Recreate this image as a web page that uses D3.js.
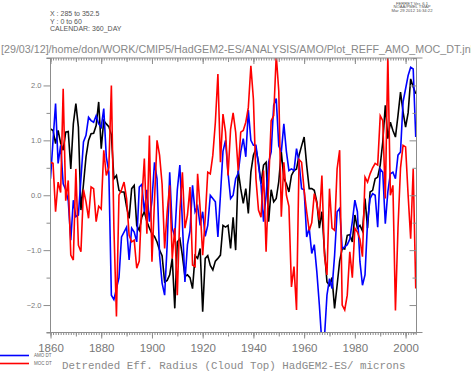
<!DOCTYPE html>
<html>
<head>
<meta charset="utf-8">
<script src="https://cdn.jsdelivr.net/npm/d3@7"></script>
<style>
  body { margin: 0; background: #fff; }
  svg { display: block; }
  text { font-family: "Liberation Sans", Arial, sans-serif; }
  text.mono { font-family: "Liberation Mono", "DejaVu Sans Mono", monospace; }
</style>
</head>
<body>
<svg id="chart" width="471" height="371"></svg>
<script>
// annual values, first year 1860, one value per year up to 2004
var firstYear = 1860;

var reff = [
  1.21, 1.18, 0.94, 1.18, 0.95, 0.82, 1.15, 1.16, 0.48, 1.3,
  1.67, 1.24, -0.27, 0.2, 0.7, 1.0, 1.12, 1.13, 1.27, 1.7,
  0.85, 1.36, 1.3, 1.25, 1.1, 0.3, 0.36, 0.09, 0.06, 0.06,
  -0.21, -0.42, 0.12, 0.18, -0.55, -0.64, -0.4, -0.3, -0.48, -0.6,
  -0.7, -0.75, -0.85, -1.0, -1.1, -1.58, -1.55, -1.45, -1.15, -2.06,
  -0.85, -0.79, -1.1, -1.48, -1.45, -1.5, -1.7, -1.1, -1.15, -0.97,
  -2.12, -1.15, -1.1, -1.28, -1.36, -1.2, -1.15, -1.09, -0.55, -0.58,
  -0.55, -0.97, -0.4, -1.0, 0.45, 0.12, -0.15, 0.12, -0.33, 0.42,
  0.73, 0.85, 0.6, 0.21, 0.55, 0.6, -0.48, 0.1, -0.12, -0.06,
  0.25, 0.79, 0.3, 0.21, 0.06, 0.36, 0.45, 0.48, 0.73, 0.9,
  1.06, 0.55, 0.12, 0.12, 0.09, -0.12, -0.6, -0.3, -1.0, -1.58,
  -1.64, -1.5, -2.06, -1.64, -1.2, -0.97, -0.98, -0.73, -0.72, -0.85,
  -0.36, -0.6, -0.55, -0.65, -0.06, -0.6, 0.06, 0.09, 0.3, 0.33,
  0.55, 0.97, 1.64, 1.03, 1.33, 1.18, 1.06, 1.45, 1.88, 1.52,
  1.24, 1.5, 2.12, 1.97, 1.85
];

var amo = [
  0.3, 1.0, 1.67, 0.58, 0.91, 0.21, 0.1, -0.1, -0.82, -0.09,
  -0.39, -0.36, 0.3, 0.97, 1.09, 1.42, 1.36, 1.33, 1.45, 1.3,
  1.24, 1.58, 0.7, 0.42, -1.82, -1.9, -1.7, -1.5, -0.76, -0.67,
  -0.58, -1.18, -0.6, -0.67, -0.85, 0.15, 0.2, -0.3, 0.1, -0.48,
  -0.1, 0.6, 0.3, -1.09, -1.6, -1.82, -0.9, 0.42, -0.6, -0.75,
  0.1, 0.55, -0.5, -1.58, -0.9, -0.65, 0.18, -0.3, -0.2, -0.55,
  -0.3, -0.75, -0.55, 0.0, -0.06, -0.12, -0.76, 0.0, 0.8, 1.0,
  0.4, -0.06, 0.0, 0.3, 0.4, 0.79, 1.03, 0.7, 1.55, 1.0,
  0.91, 0.91, 0.55, 0.2, -0.48, 0.0, 0.6, 0.79, 1.64, 1.76,
  0.9, 0.79, 1.3, 0.8, 0.45, 0.48, 0.45, 0.85, 0.6, 0.12,
  0.1, -0.76, -0.6, -1.06, -0.9, -1.39, -2.0, -2.7, -2.6, -1.82,
  -1.52, -1.7, -1.1, -0.3, -0.24, -0.97, -0.94, -0.9, -0.8, -0.48,
  -0.09, -0.3, -1.21, -1.64, -1.45, -0.48, -0.06, 0.03, 0.0, -0.58,
  0.48, 0.42, -0.52, 0.06, 0.39, 0.42, 0.3, 0.73, 0.79, 1.7,
  1.94, 2.18, 2.33, 2.3, 1.06
];

var moc = [
  0.6, 0.58, -0.3, 0.24, 0.05, 1.94, -0.1, 0.27, -1.09, -1.18,
  0.48, -0.91, -1.03, 0.1, -0.12, -0.42, 0.15, 0.12, -0.48, -0.2,
  -0.25, 0.82, 0.36, 0.5, 2.0, -0.6, -2.21, 0.0, 0.1, 0.24,
  -0.06, -0.73, -0.85, -0.82, -1.33, -1.2, -0.1, 0.67, -0.7, 1.09,
  -1.21, -0.1, 1.0, 0.73, 0.2, -0.97, -0.3, 0.18, -1.15, -0.6,
  -1.82, -0.3, 0.42, -0.6, -0.36, 0.15, -1.27, -1.3, 0.39, -0.24,
  -1.09, -0.42, 0.42, 0.39, 0.73, 1.33, 2.21, 0.6, 1.48, 1.15,
  0.36, 1.2, 1.5, 1.15, 0.45, 1.15, 1.18, 1.33, 1.6, 2.36,
  1.75, 0.3, -0.27, -0.4, 0.45, -1.03, 0.2, 1.36, 1.45, 2.55,
  1.9, -0.39, 0.6, 0.0, -0.2, -1.67, -1.3, -2.09, 0.65, 0.6,
  0.09, -0.3, -0.64, -0.5, 0.03, -0.15, -0.45, 0.36, -1.09, -1.45,
  0.12, -0.6, -0.64, 0.48, 0.82, -2.0, -2.09, -1.82, -1.03, -1.5,
  -0.6, -0.67, -0.8, -1.12, 0.33, 0.24, 0.39, 0.5, 0.58, 0.55,
  1.45, 1.36, -0.06, 2.55, 0.0, 0.18, -2.1, -0.6, 0.5, 0.91,
  0.88, 0.0, -0.79, 0.48, -1.7
];

var xLabelYears = [1860, 1880, 1900, 1920, 1940, 1960, 1980, 2000];
var yLabelValues = [-2, -1, 0, 1, 2];
var yMinorValues = [-2.5, -1.5, -0.5, 0.5, 1.5, 2.5];

var headerLines = ['X : 285 to 352.5', 'Y : 0 to 60', 'CALENDAR: 360_DAY'];
var ferretLines = ['FERRET Ver. 6.1', 'NOAA/PMEL TMAP', 'Mar 29 2012 16:34:22'];
var pathLine = '[29/03/12]/home/don/WORK/CMIP5/HadGEM2-ES/ANALYSIS/AMO/Plot_REFF_AMO_MOC_DT.jnl';
var titleText = 'Detrended Eff. Radius (Cloud Top) HadGEM2-ES/ microns';

var series = [
  {name: 'REFF', values: reff, color: '#000000', legend: null},
  {name: 'AMO DT', values: amo, color: '#0000ff', legend: 'AMO DT'},
  {name: 'MOC DT', values: moc, color: '#ff0000', legend: 'MOC DT'}
];

var margin = {left: 50.5, right: 416.5, top: 58, bottom: 332.5};
var axisColor = '#8c8c8c';
var labelColor = '#777';

var svg = d3.select('#chart');

var xScale = d3.scaleLinear()
  .domain([firstYear, 2004.3])
  .range([margin.left, margin.right]);

var yScale = d3.scaleLinear()
  .domain([-2.5, 2.5])
  .range([margin.bottom, margin.top]);

var allYears = d3.range(firstYear, 2005);
var tenYears = allYears.filter(function(y) { return y % 10 === 0; });

// clip
svg.append('clipPath').attr('id', 'plotClip')
  .append('rect')
  .attr('x', margin.left).attr('y', margin.top)
  .attr('width', margin.right - margin.left)
  .attr('height', margin.bottom - margin.top);

// lines
var line = d3.line()
  .x(function(d, i) { return xScale(firstYear + i); })
  .y(function(d) { return yScale(d); });

svg.append('g').attr('clip-path', 'url(#plotClip)')
  .selectAll('path.series')
  .data(series)
  .enter()
  .append('path')
  .attr('class', 'series')
  .attr('fill', 'none')
  .attr('stroke', function(d) { return d.color; })
  .attr('stroke-width', 1.6)
  .attr('stroke-linejoin', 'miter')
  .attr('d', function(d) { return line(d.values); });

// axes
function styleAxis(g) {
  g.select('.domain').remove();
  g.selectAll('line').attr('stroke', axisColor);
  g.selectAll('text').attr('fill', labelColor);
}

function tickAxis(axisFn, scale, values, size, pos, isX) {
  var g = svg.append('g')
    .attr('transform', isX ? 'translate(0,' + pos + ')' : 'translate(' + pos + ',0)')
    .call(axisFn(scale).tickValues(values).tickSize(size).tickFormat(''));
  styleAxis(g);
  return g;
}

// bottom
tickAxis(d3.axisBottom, xScale, allYears, 2.5, margin.bottom, true);
tickAxis(d3.axisBottom, xScale, tenYears, 4, margin.bottom, true);
var xLab = svg.append('g')
  .attr('transform', 'translate(0,' + margin.bottom + ')')
  .call(d3.axisBottom(xScale).tickValues(xLabelYears).tickSize(6).tickPadding(5)
    .tickFormat(d3.format('d')));
styleAxis(xLab);
xLab.selectAll('text').attr('font-size', 11.5);

// top (inward)
tickAxis(d3.axisBottom, xScale, allYears, 2.5, margin.top, true);
tickAxis(d3.axisBottom, xScale, tenYears, 4, margin.top, true);
tickAxis(d3.axisBottom, xScale, xLabelYears, 6, margin.top, true);

// left
tickAxis(d3.axisLeft, yScale, yMinorValues, 4, margin.left, false);
var yLab = svg.append('g')
  .attr('transform', 'translate(' + margin.left + ',0)')
  .call(d3.axisLeft(yScale).tickValues(yLabelValues).tickSize(7).tickPadding(2)
    .tickFormat(d3.format('.1f')));
styleAxis(yLab);
yLab.selectAll('text').attr('font-size', 7.5);

// right (inward)
tickAxis(d3.axisLeft, yScale, yMinorValues, 4, margin.right, false);
tickAxis(d3.axisLeft, yScale, yLabelValues, 7, margin.right, false);

// frame
svg.append('line')
  .attr('x1', margin.left - 4).attr('x2', margin.right + 6)
  .attr('y1', margin.bottom).attr('y2', margin.bottom)
  .attr('stroke', axisColor);
svg.append('line')
  .attr('x1', margin.left - 4).attr('x2', margin.right + 6)
  .attr('y1', margin.top).attr('y2', margin.top)
  .attr('stroke', axisColor);
svg.append('line')
  .attr('x1', margin.left).attr('x2', margin.left)
  .attr('y1', margin.top).attr('y2', margin.bottom)
  .attr('stroke', axisColor);
svg.append('line')
  .attr('x1', margin.right).attr('x2', margin.right)
  .attr('y1', margin.top).attr('y2', margin.bottom)
  .attr('stroke', axisColor);

// header texts
svg.append('g').selectAll('text')
  .data(headerLines)
  .enter()
  .append('text')
  .attr('x', 50)
  .attr('y', function(d, i) { return 16 + i * 7.5; })
  .attr('font-size', 7)
  .attr('fill', '#555')
  .text(function(d) { return d; });

svg.append('g').selectAll('text')
  .data(ferretLines)
  .enter()
  .append('text')
  .attr('x', 412)
  .attr('y', function(d, i) { return 4.5 + i * 3.8; })
  .attr('text-anchor', 'middle')
  .attr('font-size', 4.2)
  .attr('fill', '#555')
  .text(function(d) { return d; });

svg.append('text')
  .attr('x', 1)
  .attr('y', 53)
  .attr('font-size', 10)
  .attr('fill', '#888')
  .attr('textLength', 472)
  .attr('lengthAdjust', 'spacingAndGlyphs')
  .text(pathLine);

// title
svg.append('text')
  .attr('class', 'mono')
  .attr('x', 62)
  .attr('y', 369)
  .attr('font-size', 10.8)
  .attr('fill', '#8a8a8a')
  .text(titleText);

// legend
var legendItems = series.filter(function(s) { return s.legend; });
var leg = svg.append('g').selectAll('g')
  .data(legendItems)
  .enter()
  .append('g')
  .attr('transform', function(d, i) { return 'translate(0,' + (355.5 + i * 8) + ')'; });
leg.append('line')
  .attr('x1', 0).attr('x2', 29)
  .attr('stroke', function(d) { return d.color; })
  .attr('stroke-width', 1.6);
leg.append('text')
  .attr('x', 34).attr('y', 1.8)
  .attr('font-size', 4.5)
  .attr('fill', '#666')
  .text(function(d) { return d.legend; });
</script>
</body>
</html>
